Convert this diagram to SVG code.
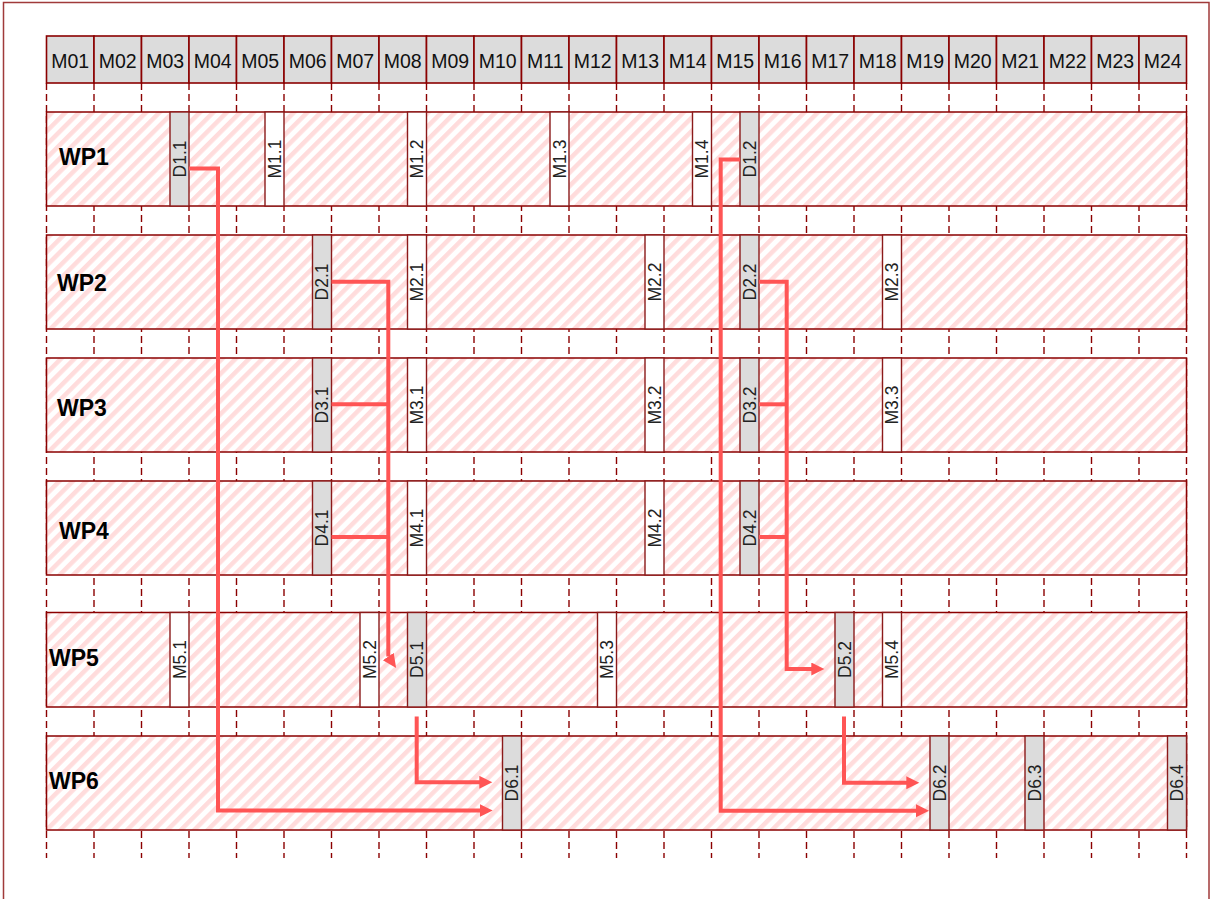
<svg xmlns="http://www.w3.org/2000/svg" width="1210" height="899" viewBox="0 0 1210 899">
<defs>
<pattern id="hatch" patternUnits="userSpaceOnUse" width="9.5" height="9.5" patternTransform="rotate(45)">
<rect x="0" y="0" width="9.5" height="9.5" fill="#ffffff"/>
<rect x="0" y="0" width="4.5" height="9.5" fill="#ffdcdc"/>
</pattern>
<marker id="arrow" markerUnits="userSpaceOnUse" markerWidth="14" markerHeight="14" refX="1" refY="6.5" orient="auto">
<path d="M0,0 L13,6.5 L0,13 z" fill="#ff5555"/>
</marker>
<marker id="arrow56" markerUnits="userSpaceOnUse" markerWidth="14" markerHeight="14" refX="0" refY="6.5" orient="56">
<path d="M0,0 L14,6.5 L0,13 z" fill="#ff5555"/>
</marker>
<style>
.frame{fill:none;stroke:#a03a3a;stroke-width:1.5}
.hcell{fill:#dcdcdc;stroke:#8b0000;stroke-width:1.6}
.htxt{font-family:"Liberation Sans",Arial,sans-serif;font-size:19.5px;fill:#111;text-anchor:middle}
.grid{stroke:#8b0000;stroke-width:1.4;stroke-dasharray:7,4}
.row{fill:url(#hatch);stroke:#8b0000;stroke-width:1.5}
.wp{font-family:"Liberation Sans",Arial,sans-serif;font-size:23px;font-weight:bold;fill:#000}
.mD{fill:#dcdcdc;stroke:#8b1a1a;stroke-width:1.4}
.mM{fill:#ffffff;stroke:#8b1a1a;stroke-width:1.4}
.mtxt{font-family:"Liberation Sans",Arial,sans-serif;font-size:17.5px;fill:#222;text-anchor:middle}
.conn{fill:none;stroke:#ff5555;stroke-width:4;stroke-linejoin:miter}
</style>
</defs>
<rect class="frame" x="3.5" y="2.5" width="1205.5" height="910"/>

<g id="grid">
<line class="grid" x1="46.5" y1="83" x2="46.5" y2="858"/>
<line class="grid" x1="94" y1="83" x2="94" y2="858"/>
<line class="grid" x1="141.5" y1="83" x2="141.5" y2="858"/>
<line class="grid" x1="189" y1="83" x2="189" y2="858"/>
<line class="grid" x1="236.5" y1="83" x2="236.5" y2="858"/>
<line class="grid" x1="284" y1="83" x2="284" y2="858"/>
<line class="grid" x1="331.5" y1="83" x2="331.5" y2="858"/>
<line class="grid" x1="379" y1="83" x2="379" y2="858"/>
<line class="grid" x1="426.5" y1="83" x2="426.5" y2="858"/>
<line class="grid" x1="474" y1="83" x2="474" y2="858"/>
<line class="grid" x1="521.5" y1="83" x2="521.5" y2="858"/>
<line class="grid" x1="569" y1="83" x2="569" y2="858"/>
<line class="grid" x1="616.5" y1="83" x2="616.5" y2="858"/>
<line class="grid" x1="664" y1="83" x2="664" y2="858"/>
<line class="grid" x1="711.5" y1="83" x2="711.5" y2="858"/>
<line class="grid" x1="759" y1="83" x2="759" y2="858"/>
<line class="grid" x1="806.5" y1="83" x2="806.5" y2="858"/>
<line class="grid" x1="854" y1="83" x2="854" y2="858"/>
<line class="grid" x1="901.5" y1="83" x2="901.5" y2="858"/>
<line class="grid" x1="949" y1="83" x2="949" y2="858"/>
<line class="grid" x1="996.5" y1="83" x2="996.5" y2="858"/>
<line class="grid" x1="1044" y1="83" x2="1044" y2="858"/>
<line class="grid" x1="1091.5" y1="83" x2="1091.5" y2="858"/>
<line class="grid" x1="1139" y1="83" x2="1139" y2="858"/>
<line class="grid" x1="1186.5" y1="83" x2="1186.5" y2="858"/>
</g>

<g id="header">
<rect class="hcell" x="46.5" y="36" width="47.5" height="47"/><text class="htxt" x="70.25" y="67.5">M01</text>
<rect class="hcell" x="94" y="36" width="47.5" height="47"/><text class="htxt" x="117.75" y="67.5">M02</text>
<rect class="hcell" x="141.5" y="36" width="47.5" height="47"/><text class="htxt" x="165.25" y="67.5">M03</text>
<rect class="hcell" x="189" y="36" width="47.5" height="47"/><text class="htxt" x="212.75" y="67.5">M04</text>
<rect class="hcell" x="236.5" y="36" width="47.5" height="47"/><text class="htxt" x="260.25" y="67.5">M05</text>
<rect class="hcell" x="284" y="36" width="47.5" height="47"/><text class="htxt" x="307.75" y="67.5">M06</text>
<rect class="hcell" x="331.5" y="36" width="47.5" height="47"/><text class="htxt" x="355.25" y="67.5">M07</text>
<rect class="hcell" x="379" y="36" width="47.5" height="47"/><text class="htxt" x="402.75" y="67.5">M08</text>
<rect class="hcell" x="426.5" y="36" width="47.5" height="47"/><text class="htxt" x="450.25" y="67.5">M09</text>
<rect class="hcell" x="474" y="36" width="47.5" height="47"/><text class="htxt" x="497.75" y="67.5">M10</text>
<rect class="hcell" x="521.5" y="36" width="47.5" height="47"/><text class="htxt" x="545.25" y="67.5">M11</text>
<rect class="hcell" x="569" y="36" width="47.5" height="47"/><text class="htxt" x="592.75" y="67.5">M12</text>
<rect class="hcell" x="616.5" y="36" width="47.5" height="47"/><text class="htxt" x="640.25" y="67.5">M13</text>
<rect class="hcell" x="664" y="36" width="47.5" height="47"/><text class="htxt" x="687.75" y="67.5">M14</text>
<rect class="hcell" x="711.5" y="36" width="47.5" height="47"/><text class="htxt" x="735.25" y="67.5">M15</text>
<rect class="hcell" x="759" y="36" width="47.5" height="47"/><text class="htxt" x="782.75" y="67.5">M16</text>
<rect class="hcell" x="806.5" y="36" width="47.5" height="47"/><text class="htxt" x="830.25" y="67.5">M17</text>
<rect class="hcell" x="854" y="36" width="47.5" height="47"/><text class="htxt" x="877.75" y="67.5">M18</text>
<rect class="hcell" x="901.5" y="36" width="47.5" height="47"/><text class="htxt" x="925.25" y="67.5">M19</text>
<rect class="hcell" x="949" y="36" width="47.5" height="47"/><text class="htxt" x="972.75" y="67.5">M20</text>
<rect class="hcell" x="996.5" y="36" width="47.5" height="47"/><text class="htxt" x="1020.25" y="67.5">M21</text>
<rect class="hcell" x="1044" y="36" width="47.5" height="47"/><text class="htxt" x="1067.75" y="67.5">M22</text>
<rect class="hcell" x="1091.5" y="36" width="47.5" height="47"/><text class="htxt" x="1115.25" y="67.5">M23</text>
<rect class="hcell" x="1139" y="36" width="47.5" height="47"/><text class="htxt" x="1162.75" y="67.5">M24</text>
</g>

<g id="WP1">
<rect class="row" x="46.5" y="112" width="1140" height="94"/>
<text class="wp" x="59" y="164.5">WP1</text>
<rect class="mD" x="170" y="112" width="19" height="94"/><text class="mtxt" x="179.5" y="159" dy="0.36em" transform="rotate(-90 179.5 159)">D1.1</text>
<rect class="mM" x="265" y="112" width="19" height="94"/><text class="mtxt" x="274.5" y="159" dy="0.36em" transform="rotate(-90 274.5 159)">M1.1</text>
<rect class="mM" x="407.5" y="112" width="19" height="94"/><text class="mtxt" x="417" y="159" dy="0.36em" transform="rotate(-90 417 159)">M1.2</text>
<rect class="mM" x="550" y="112" width="19" height="94"/><text class="mtxt" x="559.5" y="159" dy="0.36em" transform="rotate(-90 559.5 159)">M1.3</text>
<rect class="mM" x="692.5" y="112" width="19" height="94"/><text class="mtxt" x="702" y="159" dy="0.36em" transform="rotate(-90 702 159)">M1.4</text>
<rect class="mD" x="740" y="112" width="19" height="94"/><text class="mtxt" x="749.5" y="159" dy="0.36em" transform="rotate(-90 749.5 159)">D1.2</text>
</g>

<g id="WP2">
<rect class="row" x="46.5" y="235" width="1140" height="94"/>
<text class="wp" x="57" y="291">WP2</text>
<rect class="mD" x="312.5" y="235" width="19" height="94"/><text class="mtxt" x="322" y="282" dy="0.36em" transform="rotate(-90 322 282)">D2.1</text>
<rect class="mM" x="407.5" y="235" width="19" height="94"/><text class="mtxt" x="417" y="282" dy="0.36em" transform="rotate(-90 417 282)">M2.1</text>
<rect class="mM" x="645" y="235" width="19" height="94"/><text class="mtxt" x="654.5" y="282" dy="0.36em" transform="rotate(-90 654.5 282)">M2.2</text>
<rect class="mD" x="740" y="235" width="19" height="94"/><text class="mtxt" x="749.5" y="282" dy="0.36em" transform="rotate(-90 749.5 282)">D2.2</text>
<rect class="mM" x="882.5" y="235" width="19" height="94"/><text class="mtxt" x="892" y="282" dy="0.36em" transform="rotate(-90 892 282)">M2.3</text>
</g>

<g id="WP3">
<rect class="row" x="46.5" y="358" width="1140" height="94"/>
<text class="wp" x="57" y="416">WP3</text>
<rect class="mD" x="312.5" y="358" width="19" height="94"/><text class="mtxt" x="322" y="405" dy="0.36em" transform="rotate(-90 322 405)">D3.1</text>
<rect class="mM" x="407.5" y="358" width="19" height="94"/><text class="mtxt" x="417" y="405" dy="0.36em" transform="rotate(-90 417 405)">M3.1</text>
<rect class="mM" x="645" y="358" width="19" height="94"/><text class="mtxt" x="654.5" y="405" dy="0.36em" transform="rotate(-90 654.5 405)">M3.2</text>
<rect class="mD" x="740" y="358" width="19" height="94"/><text class="mtxt" x="749.5" y="405" dy="0.36em" transform="rotate(-90 749.5 405)">D3.2</text>
<rect class="mM" x="882.5" y="358" width="19" height="94"/><text class="mtxt" x="892" y="405" dy="0.36em" transform="rotate(-90 892 405)">M3.3</text>
</g>

<g id="WP4">
<rect class="row" x="46.5" y="481" width="1140" height="94"/>
<text class="wp" x="59" y="538.5">WP4</text>
<rect class="mD" x="312.5" y="481" width="19" height="94"/><text class="mtxt" x="322" y="528" dy="0.36em" transform="rotate(-90 322 528)">D4.1</text>
<rect class="mM" x="407.5" y="481" width="19" height="94"/><text class="mtxt" x="417" y="528" dy="0.36em" transform="rotate(-90 417 528)">M4.1</text>
<rect class="mM" x="645" y="481" width="19" height="94"/><text class="mtxt" x="654.5" y="528" dy="0.36em" transform="rotate(-90 654.5 528)">M4.2</text>
<rect class="mD" x="740" y="481" width="19" height="94"/><text class="mtxt" x="749.5" y="528" dy="0.36em" transform="rotate(-90 749.5 528)">D4.2</text>
</g>

<g id="WP5">
<rect class="row" x="46.5" y="612.5" width="1140" height="94.5"/>
<text class="wp" x="49" y="665.5">WP5</text>
<rect class="mM" x="170" y="612.5" width="19" height="94.5"/><text class="mtxt" x="179.5" y="659.5" dy="0.36em" transform="rotate(-90 179.5 659.5)">M5.1</text>
<rect class="mM" x="360" y="612.5" width="19" height="94.5"/><text class="mtxt" x="369.5" y="659.5" dy="0.36em" transform="rotate(-90 369.5 659.5)">M5.2</text>
<rect class="mD" x="407.5" y="612.5" width="19" height="94.5"/><text class="mtxt" x="417" y="659.5" dy="0.36em" transform="rotate(-90 417 659.5)">D5.1</text>
<rect class="mM" x="597.5" y="612.5" width="19" height="94.5"/><text class="mtxt" x="607" y="659.5" dy="0.36em" transform="rotate(-90 607 659.5)">M5.3</text>
<rect class="mD" x="835" y="612.5" width="19" height="94.5"/><text class="mtxt" x="844.5" y="659.5" dy="0.36em" transform="rotate(-90 844.5 659.5)">D5.2</text>
<rect class="mM" x="882.5" y="612.5" width="19" height="94.5"/><text class="mtxt" x="892" y="659.5" dy="0.36em" transform="rotate(-90 892 659.5)">M5.4</text>
</g>

<g id="WP6">
<rect class="row" x="46.5" y="736" width="1140" height="94"/>
<text class="wp" x="49" y="788.5">WP6</text>
<rect class="mD" x="502.5" y="736" width="19" height="94"/><text class="mtxt" x="512" y="783" dy="0.36em" transform="rotate(-90 512 783)">D6.1</text>
<rect class="mD" x="930" y="736" width="19" height="94"/><text class="mtxt" x="939.5" y="783" dy="0.36em" transform="rotate(-90 939.5 783)">D6.2</text>
<rect class="mD" x="1025" y="736" width="19" height="94"/><text class="mtxt" x="1034.5" y="783" dy="0.36em" transform="rotate(-90 1034.5 783)">D6.3</text>
<rect class="mD" x="1167.5" y="736" width="19" height="94"/><text class="mtxt" x="1177" y="783" dy="0.36em" transform="rotate(-90 1177 783)">D6.4</text>
</g>

<g id="connectors">
<path class="conn" d="M189,168.5 H218 V810.5 H480.7" marker-end="url(#arrow)"/>
<path class="conn" d="M740,159.5 H720.7 V810.8 H917" marker-end="url(#arrow)"/>
<path class="conn" d="M331.5,281.7 H388.3 V656.5" marker-end="url(#arrow56)"/>
<path class="conn" d="M331.5,404.3 H388.3"/>
<path class="conn" d="M331.5,537 H388.3"/>
<path class="conn" d="M759,281.7 H786.7 V669 H812.3" marker-end="url(#arrow)"/>
<path class="conn" d="M759,404.3 H786.7"/>
<path class="conn" d="M759,537 H786.7"/>
<path class="conn" d="M416.7,716.5 V782.3 H480.3" marker-end="url(#arrow)"/>
<path class="conn" d="M844,716.5 V782.7 H907.3" marker-end="url(#arrow)"/>
</g>
</svg>
